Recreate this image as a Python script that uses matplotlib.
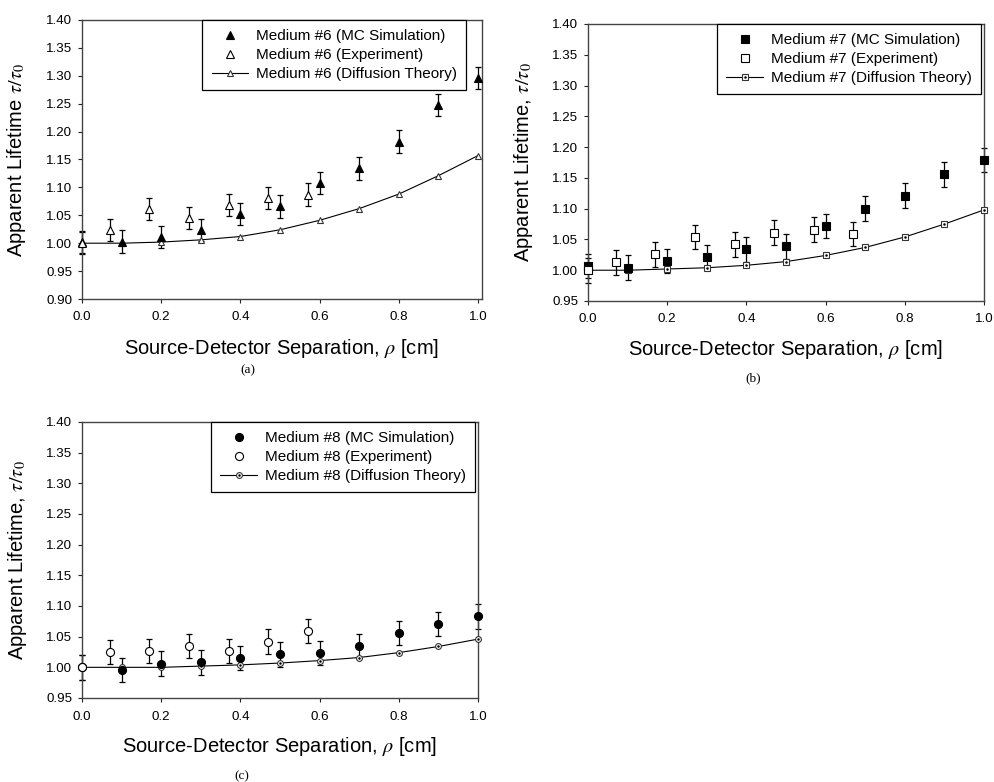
import numpy as np
import matplotlib
matplotlib.use('Agg')
import matplotlib.pyplot as plt

plt.rcParams['font.family'] = ['Liberation Sans', 'DejaVu Sans']
plt.rcParams['mathtext.fontset'] = 'stix'

# separation [cm]
rho_theory = [0.0, 0.1, 0.2, 0.3, 0.4, 0.5, 0.6, 0.7, 0.8, 0.9, 1.0]
rho_exp = [0.0, 0.07, 0.17, 0.27, 0.37, 0.47, 0.57]
rho_exp7 = [0.0, 0.07, 0.17, 0.27, 0.37, 0.47, 0.57, 0.67]

# medium #6
theory6 = [1.000, 1.000, 1.002, 1.006, 1.012, 1.024, 1.041, 1.062, 1.088, 1.121, 1.157]
mc6 = [1.002, 1.003, 1.011, 1.024, 1.052, 1.066, 1.108, 1.134, 1.182, 1.248, 1.296]
exp6 = [1.000, 1.024, 1.061, 1.045, 1.069, 1.081, 1.087]

# medium #7
theory7 = [1.000, 1.000, 1.002, 1.004, 1.008, 1.014, 1.024, 1.037, 1.054, 1.075, 1.098]
mc7 = [1.007, 1.004, 1.015, 1.021, 1.034, 1.039, 1.072, 1.100, 1.121, 1.156, 1.179]
exp7 = [1.000, 1.013, 1.026, 1.054, 1.042, 1.061, 1.066, 1.059]

# medium #8
theory8 = [1.000, 1.000, 1.000, 1.002, 1.004, 1.007, 1.011, 1.016, 1.024, 1.034, 1.046]
mc8 = [1.000, 0.996, 1.006, 1.008, 1.015, 1.021, 1.023, 1.035, 1.056, 1.071, 1.083]
exp8 = [1.000, 1.025, 1.027, 1.035, 1.027, 1.042, 1.059]

err = 0.02


def draw_panel(ax, num, marker, mc, x_exp, exp, theory, ymin, xmax, ylabel, legend_x, dot):
    for xs, ys in [(rho_theory, mc), (x_exp, exp)]:
        eb = ax.errorbar(xs, ys, yerr=err, fmt='none', ecolor='black', elinewidth=0.9,
                         capsize=2.2, capthick=0.9, zorder=2)
        for art in eb.lines[1] + eb.lines[2]:
            art.set_clip_on(False)
    line, = ax.plot(rho_theory, theory, color='black', lw=0.8, marker=marker, ms=4.2,
                    mfc='white', mec='#333333', mew=0.8, zorder=3, clip_on=False)
    h_th = line
    if dot:
        d, = ax.plot(rho_theory, theory, ls='none', marker='.', ms=1.6, color='black',
                     zorder=4, clip_on=False)
        h_th = (line, d)
    h_mc, = ax.plot(rho_theory, mc, ls='none', marker=marker, ms=5.8, mfc='black',
                    mec='black', mew=0.8, zorder=5, clip_on=False)
    h_exp, = ax.plot(x_exp, exp, ls='none', marker=marker, ms=5.8, mfc='white',
                     mec='black', mew=0.8, zorder=5, clip_on=False)

    ax.set_xlim(0, xmax)
    ax.set_ylim(ymin, 1.40)
    ax.set_xticks(np.arange(0, 1.01, 0.2))
    ax.set_yticks(np.arange(ymin, 1.401, 0.05))
    ax.xaxis.set_major_formatter(matplotlib.ticker.FormatStrFormatter('%.1f'))
    ax.yaxis.set_major_formatter(matplotlib.ticker.FormatStrFormatter('%.2f'))
    ax.tick_params(direction='out', length=3, width=0.8, labelsize=9.6, color='#222222')
    ax.tick_params(axis='x', pad=6)
    ax.tick_params(axis='y', pad=4)
    for s in ax.spines.values():
        s.set_color('#444444')
        s.set_linewidth(1.0)

    ax.set_xlabel(r'Source-Detector Separation, $\rho$ [cm]', fontsize=14.5)
    ax.set_ylabel(ylabel, fontsize=14.5)
    ax.xaxis.set_label_coords(0.5, -0.135)
    ax.yaxis.set_label_coords(-0.135, 0.5)

    leg = ax.legend([h_mc, h_exp, h_th],
                    ['Medium #%d (MC Simulation)' % num, 'Medium #%d (Experiment)' % num,
                     'Medium #%d (Diffusion Theory)' % num],
                    loc='upper right', bbox_to_anchor=(legend_x, 1.0), borderaxespad=0,
                    fontsize=11, numpoints=1, handlelength=2.4, handletextpad=0.5,
                    labelspacing=0.32, borderpad=0.6, fancybox=False, framealpha=1)
    leg.get_frame().set_edgecolor('black')
    leg.get_frame().set_linewidth(0.9)
    leg.set_zorder(10)


fig = plt.figure(figsize=(9.94, 7.82), dpi=100)
W, H = 994, 782
ax_a = fig.add_axes([82 / W, 1 - 299 / H, 400 / W, 279 / H])
ax_b = fig.add_axes([588 / W, 1 - 301 / H, 396 / W, 277 / H])
ax_c = fig.add_axes([82 / W, 1 - 698 / H, 396 / W, 276 / H])

draw_panel(ax_a, 6, '^', mc6, rho_exp, exp6, theory6, 0.90, 1.0101,
           r'Apparent Lifetime $\tau/\tau_0$', 0.96, False)
draw_panel(ax_b, 7, 's', mc7, rho_exp7, exp7, theory7, 0.95, 1.0,
           r'Apparent Lifetime, $\tau/\tau_0$', 0.992, True)
draw_panel(ax_c, 8, 'o', mc8, rho_exp, exp8, theory8, 0.95, 1.0,
           r'Apparent Lifetime, $\tau/\tau_0$', 0.992, True)

for label, px, py in [('(a)', 248, 370), ('(b)', 753, 378), ('(c)', 242, 776)]:
    fig.text(px / W, 1 - py / H, label, ha='center', va='center', fontsize=9.5,
             family='Liberation Serif')

fig.savefig('out.png', dpi=100)
